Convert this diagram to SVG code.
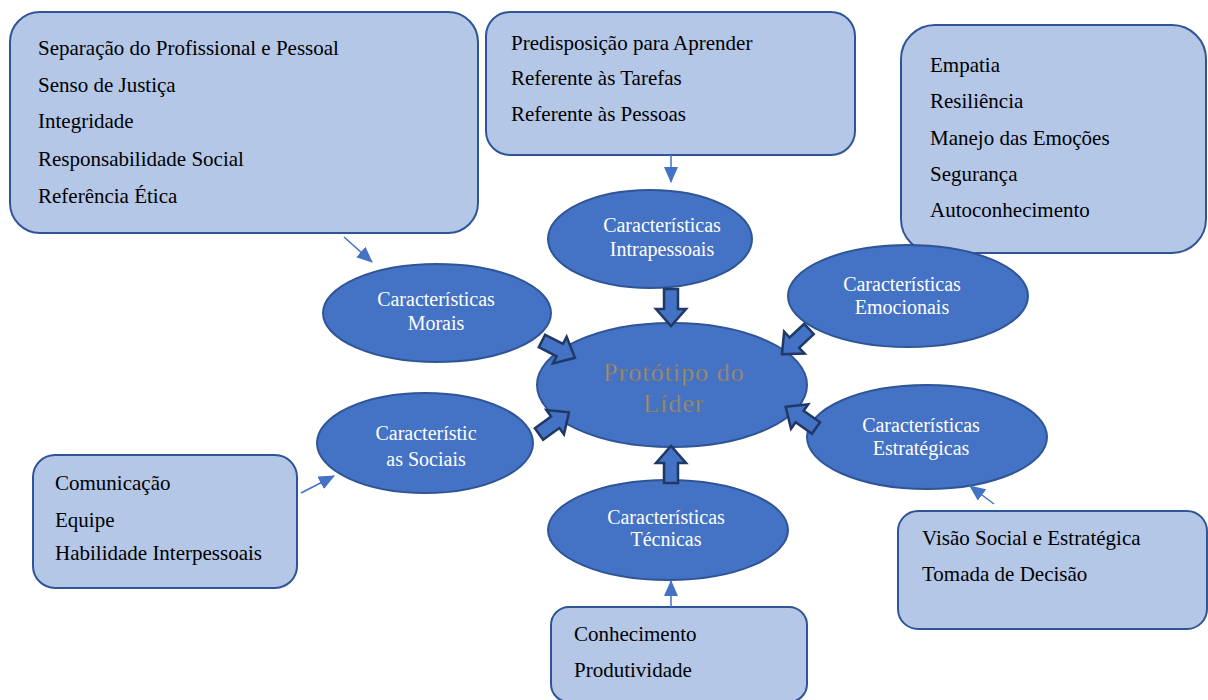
<svg xmlns="http://www.w3.org/2000/svg" width="1208" height="700" viewBox="0 0 1208 700">
<style>
.box{fill:#B4C7E7;stroke:#2F5597;stroke-width:2}
.ell{fill:#4472C4;stroke:#2F5597;stroke-width:2}
.bt{font-family:"Liberation Serif",serif;font-size:21px;fill:#000}
.et{font-family:"Liberation Serif",serif;font-size:20px;fill:#fff;text-anchor:middle}
.ct{font-family:"Liberation Serif",serif;font-size:26px;fill:#949494;stroke:#707070;stroke-width:0.6;text-anchor:middle;letter-spacing:1px}
.blk{fill:#4472C4;stroke:#1F3864;stroke-width:2.5;stroke-linejoin:miter}
.con{stroke:#4472C4;stroke-width:1.5;fill:none;marker-end:url(#ah)}
</style>
<defs>
<marker id="ah" markerWidth="16" markerHeight="14" refX="15" refY="7" orient="auto" markerUnits="userSpaceOnUse">
<path d="M0,0 L16,7 L0,14 Z" fill="#4472C4"/>
</marker>
<path id="ba" d="M0,-7 L20,-7 L20,-15 L37,0 L20,15 L20,7 L0,7 Z"/>
</defs>
<rect width="1208" height="700" fill="#fff"/>

<g id="box-morais">
<rect class="box" x="10" y="12" width="468" height="221" rx="30"/>
<text class="bt" x="38" y="55">Separação do Profissional e Pessoal</text>
<text class="bt" x="38" y="92">Senso de Justiça</text>
<text class="bt" x="38" y="128">Integridade</text>
<text class="bt" x="38" y="166">Responsabilidade Social</text>
<text class="bt" x="38" y="203">Referência Ética</text>
</g>
<g id="box-intrapessoais">
<rect class="box" x="486" y="12" width="369" height="143" rx="24"/>
<text class="bt" x="511" y="50">Predisposição para Aprender</text>
<text class="bt" x="511" y="85">Referente às Tarefas</text>
<text class="bt" x="511" y="121">Referente às Pessoas</text>
</g>
<g id="box-emocionais">
<rect class="box" x="901" y="25" width="305" height="228" rx="34"/>
<text class="bt" x="930" y="72">Empatia</text>
<text class="bt" x="930" y="108">Resiliência</text>
<text class="bt" x="930" y="145">Manejo das Emoções</text>
<text class="bt" x="930" y="181">Segurança</text>
<text class="bt" x="930" y="217">Autoconhecimento</text>
</g>
<g id="box-sociais">
<rect class="box" x="33" y="455" width="264" height="133" rx="22"/>
<text class="bt" x="55" y="490">Comunicação</text>
<text class="bt" x="55" y="527">Equipe</text>
<text class="bt" x="55" y="560">Habilidade Interpessoais</text>
</g>
<g id="box-estrategicas">
<rect class="box" x="898" y="511" width="309" height="118" rx="20"/>
<text class="bt" x="922" y="545">Visão Social e Estratégica</text>
<text class="bt" x="922" y="581">Tomada de Decisão</text>
</g>
<g id="box-tecnicas">
<rect class="box" x="551" y="607" width="256" height="95" rx="18"/>
<text class="bt" x="574" y="641">Conhecimento</text>
<text class="bt" x="574" y="677">Produtividade</text>
</g>

<g id="node-intrapessoais">
<ellipse class="ell" cx="650" cy="239" rx="102" ry="49"/>
<text class="et" x="662" y="232">Características</text>
<text class="et" x="662" y="256">Intrapessoais</text>
</g>
<g id="node-emocionais">
<ellipse class="ell" cx="908" cy="296" rx="120" ry="51"/>
<text class="et" x="902" y="291">Características</text>
<text class="et" x="902" y="314">Emocionais</text>
</g>
<g id="node-morais">
<ellipse class="ell" cx="437" cy="313" rx="114" ry="49"/>
<text class="et" x="436" y="306">Características</text>
<text class="et" x="436" y="330">Morais</text>
</g>
<g id="node-sociais">
<ellipse class="ell" cx="425" cy="443" rx="108" ry="50"/>
<text class="et" x="426" y="440">Característic</text>
<text class="et" x="426" y="466">as Sociais</text>
</g>
<g id="node-estrategicas">
<ellipse class="ell" cx="927" cy="437" rx="120" ry="52"/>
<text class="et" x="921" y="432">Características</text>
<text class="et" x="921" y="455">Estratégicas</text>
</g>
<g id="node-tecnicas">
<ellipse class="ell" cx="668" cy="530" rx="120" ry="50"/>
<text class="et" x="666" y="524">Características</text>
<text class="et" x="666" y="546">Técnicas</text>
</g>
<g id="node-prototipo">
<ellipse class="ell" cx="672" cy="385" rx="135" ry="62"/>
<text class="ct" x="674" y="381">Protótipo do</text>
<text class="ct" x="674" y="412">Líder</text>
</g>

<g id="connectors">
<line class="con" x1="344" y1="237" x2="372" y2="262"/>
<line class="con" x1="671" y1="155" x2="671" y2="182"/>
<line class="con" x1="301" y1="493" x2="334" y2="476"/>
<line class="con" x1="994" y1="504" x2="970" y2="486"/>
<line class="con" x1="671" y1="607" x2="671" y2="581"/>
<use href="#ba" class="blk" transform="translate(671,289) rotate(90)"/>
<use href="#ba" class="blk" transform="translate(671,483) rotate(-90)"/>
<use href="#ba" class="blk" transform="translate(542,341) rotate(27)"/>
<use href="#ba" class="blk" transform="translate(539,434) rotate(-36)"/>
<use href="#ba" class="blk" transform="translate(809,329) rotate(137)"/>
<use href="#ba" class="blk" transform="translate(816,428) rotate(215)"/>
</g>
</svg>
